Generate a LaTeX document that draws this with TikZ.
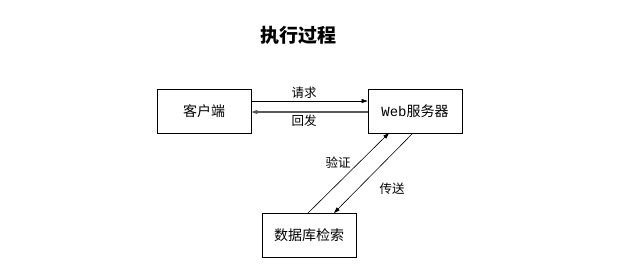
\documentclass[tikz,border=0pt]{standalone}
\usepackage{fontspec}
\newfontfamily\cjk{Noto Sans CJK SC}
\newfontfamily\monof{Liberation Mono}
\usetikzlibrary{arrows.meta}
\begin{document}
\begin{tikzpicture}[x=1pt,y=-1pt,
  boxn/.style={draw,line width=0.8pt,minimum width=94pt,minimum height=44pt,inner sep=0pt,font=\cjk\fontsize{14}{16}\selectfont},
  lbl/.style={font=\cjk\fontsize{12.5}{14}\selectfont,inner sep=0pt},
  conn/.style={line width=0.6pt,-{Triangle[length=6pt,width=4pt]}}]
\useasboundingbox (0,0) rectangle (618,266);
\node[font=\cjk\bfseries\fontsize{19}{22}\selectfont] (title) at (298,35) {执行过程};
\node[boxn] (client) at (204,111) {客户端};
\node[boxn] (web) at (415,111) {{\monof Web}服务器};
\node[boxn] (db) at (309,235.5) {数据库检索};
\coordinate (c1) at (client.east |- 0,101);
\coordinate (w1) at (web.west |- 0,101);
\coordinate (c2) at (client.east |- 0,112);
\coordinate (w2) at (web.west |- 0,112);
\draw[conn] (c1) -- (w1);
\draw[conn,line width=1.1pt,black!65] (w2) -- (c2);
\node[lbl] (req) at (304,93) {请求};
\node[lbl] (resp) at (304,121) {回发};
\coordinate (d1) at (308,213);
\coordinate (v1) at (389,133);
\coordinate (v2) at (413,133);
\coordinate (d2) at (334,213);
\draw[conn] (d1) -- (v1);
\draw[conn] (v2) -- (d2);
\node[lbl] (ver) at (338,163) {验证};
\node[lbl] (send) at (392,189) {传送};
\end{tikzpicture}
\end{document}
